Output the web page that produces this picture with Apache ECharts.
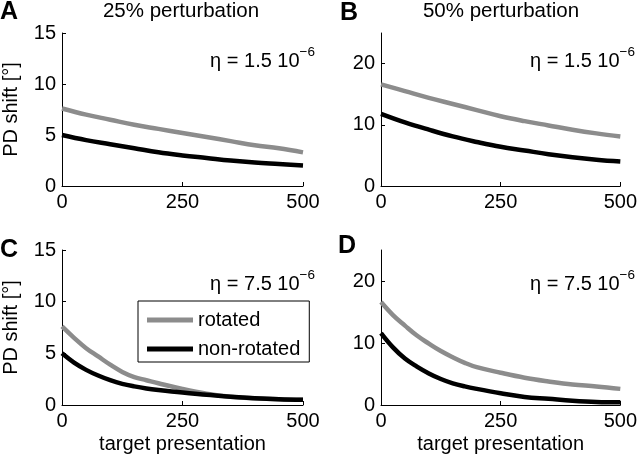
<!DOCTYPE html>
<html>
<head>
<meta charset="utf-8">
<script src="https://cdn.jsdelivr.net/npm/echarts@6/dist/echarts.min.js"></script>
<style>
html,body{margin:0;padding:0;background:#fff;}
#chart{width:640px;height:455px;}
</style>
</head>
<body>
<div id="chart"></div>
<script>
// ---- data ----
const xSlow = [0, 50, 100, 150, 200, 250, 300, 350, 400, 450, 500];
const xFast = [0, 25, 50, 75, 100, 125, 150, 175, 200, 250, 300, 350, 400, 450, 500];

const aRotated    = [7.6, 7.0, 6.5, 6.0, 5.6, 5.2, 4.8, 4.4, 4.0, 3.7, 3.3];
const aNonRotated = [5.0, 4.5, 4.1, 3.7, 3.3, 3.0, 2.75, 2.5, 2.3, 2.15, 2.0];
const bRotated    = [16.6, 15.5, 14.4, 13.4, 12.4, 11.4, 10.6, 9.9, 9.2, 8.6, 8.1];
const bNonRotated = [11.8, 10.4, 9.2, 8.1, 7.2, 6.4, 5.8, 5.2, 4.7, 4.3, 4.0];
const cRotated    = [7.6, 6.5, 5.5, 4.7, 3.9, 3.2, 2.7, 2.4, 2.1, 1.55, 1.1, 0.8, 0.65, 0.55, 0.5];
const cNonRotated = [5.0, 4.1, 3.4, 2.85, 2.4, 2.05, 1.8, 1.6, 1.45, 1.2, 1.0, 0.8, 0.65, 0.55, 0.5];
const dRotated    = [16.6, 14.5, 12.8, 11.2, 9.9, 8.7, 7.7, 6.8, 6.1, 5.2, 4.4, 3.8, 3.3, 3.0, 2.6];
const dNonRotated = [11.6, 9.3, 7.5, 6.2, 5.1, 4.2, 3.5, 3.0, 2.6, 1.9, 1.3, 1.0, 0.7, 0.5, 0.45];

const xTicks = [0, 250, 500];
const yTicksSmall = [0, 5, 10, 15];
const yTicksLarge = [0, 10, 20];

const panelLetters = ['A', 'B', 'C', 'D'];
const panelTitles = ['25% perturbation', '50% perturbation'];
const etaLabels = ['1.5', '1.5', '7.5', '7.5'];
const seriesNames = ['rotated', 'non-rotated'];
const yName = 'PD shift [°]';
const xName = 'target presentation';

// ---- chart ----
const FONT = "'Liberation Sans', Arial, Helvetica, sans-serif";
const GRAY = '#8c8c8c';
const BLACK = '#000000';
const FS = 20;

const grids = [
  {left: 61, top: 33, width: 242, height: 153},
  {left: 381, top: 33, width: 242, height: 153},
  {left: 61, top: 250, width: 242, height: 155},
  {left: 381, top: 250, width: 242, height: 155}
];

const panels = [
  {x: xSlow, r: aRotated, n: aNonRotated, max: 15, ticks: yTicksSmall},
  {x: xSlow, r: bRotated, n: bNonRotated, max: 25, ticks: yTicksLarge},
  {x: xFast, r: cRotated, n: cNonRotated, max: 15, ticks: yTicksSmall},
  {x: xFast, r: dRotated, n: dNonRotated, max: 25, ticks: yTicksLarge}
];

const axisLine = {show: true, lineStyle: {color: '#000', width: 1}};
const axisTick = {show: true, inside: true, length: 4, lineStyle: {color: '#000'}};
const labelStyle = {color: '#000', fontSize: FS, fontFamily: FONT};

const xAxes = panels.map((p, i) => ({
  type: 'value', gridIndex: i, min: 0, max: 500,
  axisLine: axisLine,
  axisTick: Object.assign({customValues: xTicks}, axisTick),
  axisLabel: Object.assign({margin: 6, customValues: xTicks}, labelStyle),
  splitLine: {show: false},
  name: i >= 2 ? xName : '',
  nameLocation: 'middle', nameGap: 29,
  nameTextStyle: labelStyle
}));

const yAxes = panels.map((p, i) => ({
  type: 'value', gridIndex: i, min: 0, max: p.max,
  axisLine: axisLine,
  axisTick: Object.assign({customValues: p.ticks}, axisTick),
  axisLabel: Object.assign({margin: 6, customValues: p.ticks}, labelStyle),
  splitLine: {show: false},
  name: (i % 2 === 0) ? yName : '',
  nameLocation: 'middle', nameGap: 41,
  nameTextStyle: labelStyle
}));

const series = [];
panels.forEach((p, i) => {
  series.push({
    name: seriesNames[0], type: 'line', xAxisIndex: i, yAxisIndex: i,
    data: p.x.map((x, k) => [x, p.r[k]]),
    showSymbol: false, smooth: 0.4, color: GRAY,
    lineStyle: {color: GRAY, width: 4.5}, z: 2
  });
  series.push({
    name: seriesNames[1], type: 'line', xAxisIndex: i, yAxisIndex: i,
    data: p.x.map((x, k) => [x, p.n[k]]),
    showSymbol: false, smooth: 0.4, color: BLACK,
    lineStyle: {color: BLACK, width: 4.5}, z: 3
  });
});

const letterPos = [
  {left: 0, top: 0}, {left: 340, top: 1}, {left: 0, top: 238}, {left: 338, top: 234}
];
const titles = [];
panelLetters.forEach((L, i) => {
  titles.push({
    text: L, left: letterPos[i].left, top: letterPos[i].top, padding: 0,
    textStyle: {fontSize: 25, fontWeight: 'bold', color: '#000', fontFamily: FONT}
  });
});
panelTitles.forEach((t, i) => {
  titles.push({
    text: t, left: i === 0 ? 181 : 501, top: 0, padding: 0, textAlign: 'center',
    textStyle: {fontSize: 20.5, fontWeight: 'normal', color: '#000', fontFamily: FONT, lineHeight: 22}
  });
});
const etaTop = [45, 45, 268, 268];
etaLabels.forEach((v, i) => {
  titles.push({
    text: '{b|η = ' + v + ' 10}{s|−6}',
    right: (i % 2 === 0) ? 325 : 5, top: etaTop[i], padding: 0,
    textStyle: {
      fontFamily: FONT, fontWeight: 'normal',
      rich: {
        b: {fontSize: FS, color: '#000', fontFamily: FONT, fontWeight: 'normal', lineHeight: 26, verticalAlign: 'bottom'},
        s: {fontSize: 13.5, color: '#000', fontFamily: FONT, fontWeight: 'normal', lineHeight: 14, verticalAlign: 'top'}
      }
    }
  });
});

const option = {
  backgroundColor: '#fff',
  animation: false,
  title: titles,
  grid: grids,
  xAxis: xAxes,
  yAxis: yAxes,
  legend: {
    data: seriesNames,
    orient: 'vertical',
    left: 138, top: 301,
    padding: [8, 9, 2, 9],
    itemGap: 7,
    itemWidth: 46, itemHeight: 5,
    icon: 'rect',
    borderColor: '#000', borderWidth: 1,
    backgroundColor: '#fff',
    selectedMode: false,
    textStyle: {fontSize: FS, color: '#000', fontFamily: FONT, lineHeight: 22, padding: [0, 0, 0, 0]}
  },
  series: series
};

const chart = echarts.init(document.getElementById('chart'), null, {renderer: 'canvas'});
chart.setOption(option);
</script>
</body>
</html>
